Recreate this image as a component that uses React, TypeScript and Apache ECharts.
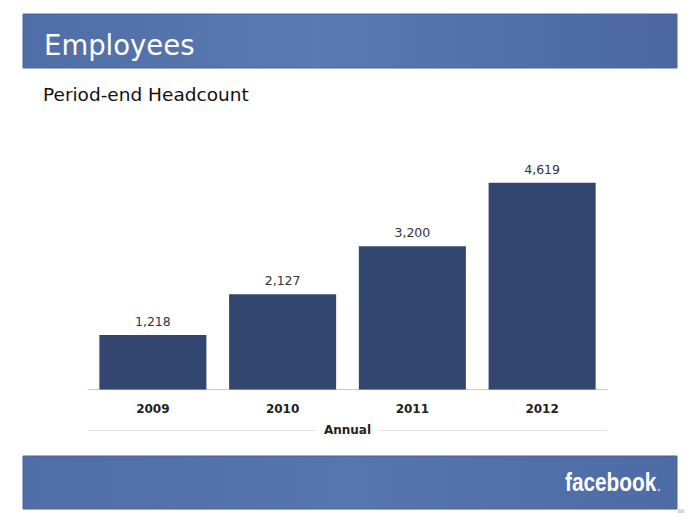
import React, { useEffect, useRef } from "react";
import * as echarts from "echarts";

const categories = ["2009", "2010", "2011", "2012"];
const headcount = [1218, 2127, 3200, 4619];
const titleText = "Employees";
const subtitleText = "Period-end Headcount";
const axisName = "Annual";

export default function App() {
  const ref = useRef<HTMLDivElement>(null);
  useEffect(() => {
    if (!ref.current) return;
    const chart = echarts.init(ref.current, null, { renderer: "svg" });
    const font = "DejaVu Sans";
    chart.setOption({
      animation: false,
      backgroundColor: "#ffffff",
      grid: { left: 88, right: 93, top: 165.6, bottom: 135.5 },
      xAxis: {
        type: "category",
        data: categories,
        axisLine: { lineStyle: { color: "#c8c8c8", width: 1 } },
        axisTick: { show: false },
        axisLabel: { fontFamily: font, fontSize: 12, fontWeight: "bold", color: "#222", margin: 13 },
        name: axisName,
        nameLocation: "middle",
        nameGap: 34,
        nameTextStyle: { fontFamily: font, fontSize: 12, fontWeight: "bold", color: "#222" },
      },
      yAxis: { type: "value", min: 0, max: 5000, show: false, splitLine: { show: false } },
      series: [
        {
          type: "bar",
          data: headcount,
          barWidth: "82.5%",
          itemStyle: { color: "#33466f" },
          label: {
            show: true,
            position: "top",
            distance: 7,
            fontFamily: font,
            fontSize: 12.5,
            color: "#333",
            formatter: (p: any) => Number(p.value).toLocaleString("en-US"),
          },
        },
      ],
      graphic: [
        {
          type: "rect",
          shape: { x: 23, y: 14, width: 654, height: 54 },
          style: {
            fill: new echarts.graphic.LinearGradient(0, 0, 1, 0, [
              { offset: 0, color: "#4f6ea7" },
              { offset: 0.45, color: "#5a7ab1" },
              { offset: 1, color: "#4a67a0" },
            ]),
            stroke: "#4a6399",
            lineWidth: 1,
          },
        },
        {
          type: "text",
          x: 44,
          y: 45,
          style: { text: titleText, fontFamily: font, fontSize: 27.5, fill: "#ffffff", verticalAlign: "middle", align: "left" },
        },
        {
          type: "text",
          x: 43,
          y: 94,
          style: { text: subtitleText, fontFamily: font, fontSize: 18.5, fill: "#111", verticalAlign: "middle", align: "left" },
        },
        { type: "line", shape: { x1: 88, y1: 430.5, x2: 316, y2: 430.5 }, style: { stroke: "#e2e2e2", lineWidth: 1 } },
        { type: "line", shape: { x1: 379, y1: 430.5, x2: 607, y2: 430.5 }, style: { stroke: "#e2e2e2", lineWidth: 1 } },
        {
          type: "rect",
          shape: { x: 23, y: 456, width: 654, height: 53 },
          style: {
            fill: new echarts.graphic.LinearGradient(0, 0, 1, 0, [
              { offset: 0, color: "#4f6ea7" },
              { offset: 0.5, color: "#5676ae" },
              { offset: 1, color: "#4d6ba4" },
            ]),
            stroke: "#4a6399",
            lineWidth: 1,
          },
        },
        {
          type: "text",
          x: 565,
          y: 482,
          scaleX: 0.8,
          style: { text: "facebook", fontFamily: "Liberation Sans", fontWeight: "bold", fontSize: 26, fill: "#ffffff", verticalAlign: "middle", align: "left" },
        },
        { type: "circle", shape: { cx: 659, cy: 490, r: 1.3 }, style: { fill: "#a8b6d6" } },
        {
          type: "text",
          x: 681,
          y: 511,
          style: { text: "88", fontFamily: font, fontSize: 5, fill: "#999", verticalAlign: "middle", align: "center" },
        },
      ],
    });
    return () => chart.dispose();
  }, []);
  return <div ref={ref} style={{ position: "absolute", left: 0, top: 0, width: 700, height: 525 }} />;
}
